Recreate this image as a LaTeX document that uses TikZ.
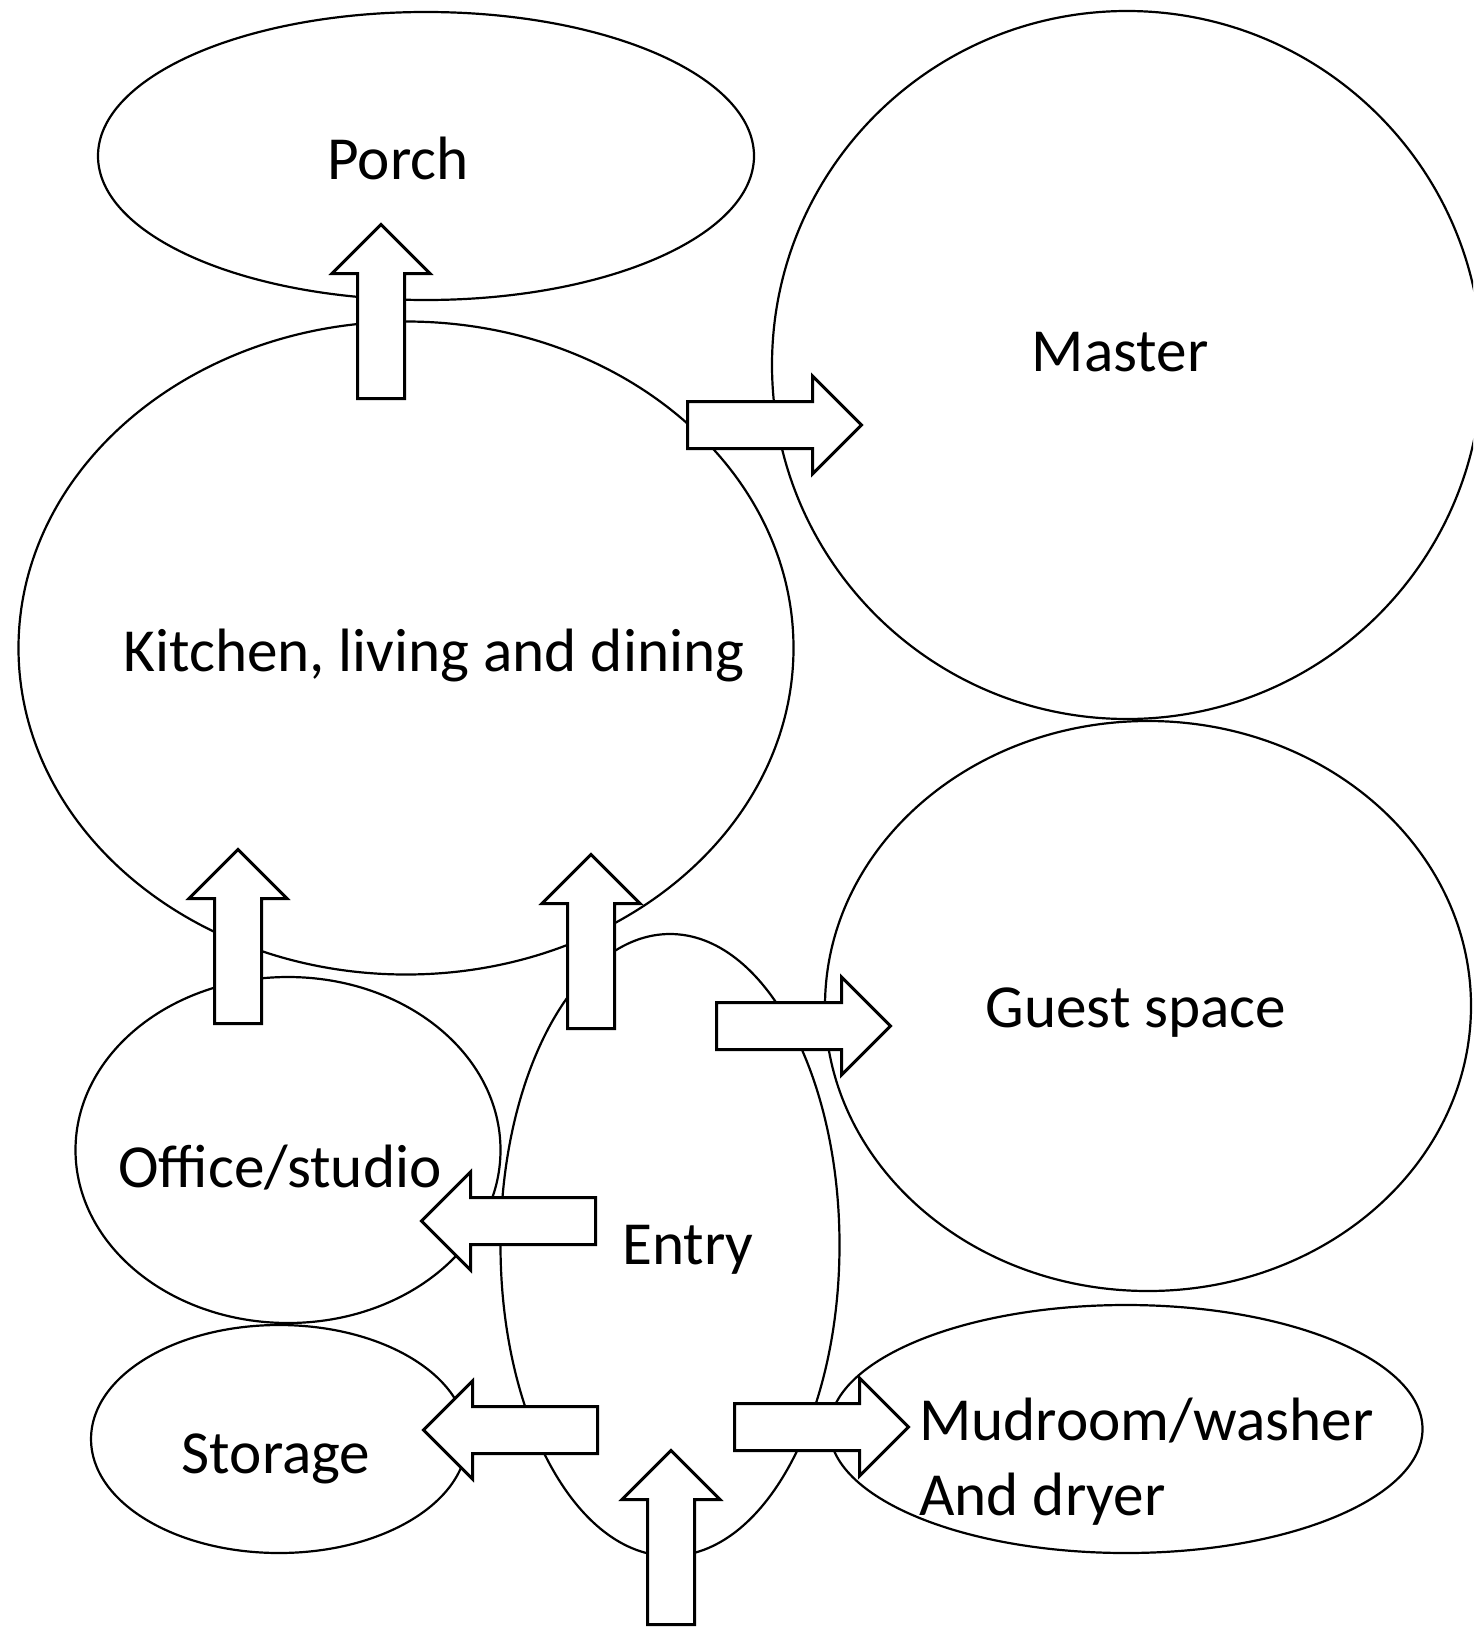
\documentclass[tikz,border=0pt]{standalone}
\usepackage{fontspec}
\setmainfont{Carlito}
\usepackage{tikz}
\usetikzlibrary{shapes.geometric,shapes.arrows}

\begin{document}
\begin{tikzpicture}
	[x=0.5pt, y=-0.5pt, inner sep=0pt,
	room/.style		= {ellipse, draw, line width=1.1pt, inner sep=0pt},
	flow/.style		= {single arrow, draw, fill=white, line width=1.5pt, inner xsep=0pt, inner ysep=11pt,
						single arrow head extend=12.75pt, minimum height=87pt, anchor=tail},
	roomname/.style	= {font=\fontsize{30.6}{37.5}\selectfont, inner sep=0pt, anchor=base}]
	
	\useasboundingbox (0, 0) rectangle (1473, 1627);
	\clip (0, 0) rectangle (1473, 1627);
	
	% rooms
	\node at (426, 156)		[room, minimum width=328pt, minimum height=144pt]	(porch)		{};
	\node at (406, 648)		[room, minimum width=387.5pt, minimum height=326.5pt]	(kitchen)	{};
	\node at (1127, 365)	[room, minimum width=355pt, minimum height=354pt]	(master)	{};
	\node at (1148, 1006)	[room, minimum width=323pt, minimum height=285pt]	(guest)		{};
	\node at (288, 1150)	[room, minimum width=212.5pt, minimum height=173pt]	(office)	{};
	\node at (279, 1439)	[room, minimum width=188pt, minimum height=114pt]	(storage)	{};
	\node at (670, 1245)	[room, minimum width=169.5pt, minimum height=311pt]	(entry)		{};
	\node at (1126, 1429)	[room, minimum width=296.5pt, minimum height=124pt]	(mudroom)	{};
	
	% block arrows
	\node at (381, 400)		[flow, rotate=90]	(toporch)	{};
	\node at (686, 425)		[flow]				(tomaster)	{};
	\node at (238, 1025)	[flow, rotate=90]	(officeup)	{};
	\node at (591, 1030)	[flow, rotate=90]	(entryup)	{};
	\node at (715, 1026)	[flow]				(toguest)	{};
	\node at (597, 1221)	[flow, rotate=180]	(tooffice)	{};
	\node at (599, 1430)	[flow, rotate=180]	(tostorage)	{};
	\node at (733, 1427)	[flow]				(tomudroom)	{};
	\node at (671, 1626)	[flow, rotate=90]	(toentry)	{};
	
	% names
	\node at (398, 179)		[roomname]	(porch-t)	{Porch};
	\node at (1120, 371)	[roomname]	(master-t)	{Master};
	\node at (434, 671)		[roomname]	(kitchen-t)	{Kitchen, living and dining};
	\node at (1136, 1027)	[roomname]	(guest-t)	{Guest space};
	\node at (280, 1187)	[roomname]	(office-t)	{Office/studio};
	\node at (688, 1264)	[roomname]	(entry-t)	{Entry};
	\node at (276, 1473)	[roomname]	(storage-t)	{Storage};
	\node at (919, 1515)	[roomname, anchor=base west, align=left]	(mudroom-t)	{Mudroom/washer\\And dryer};
	
\end{tikzpicture}
\end{document}
